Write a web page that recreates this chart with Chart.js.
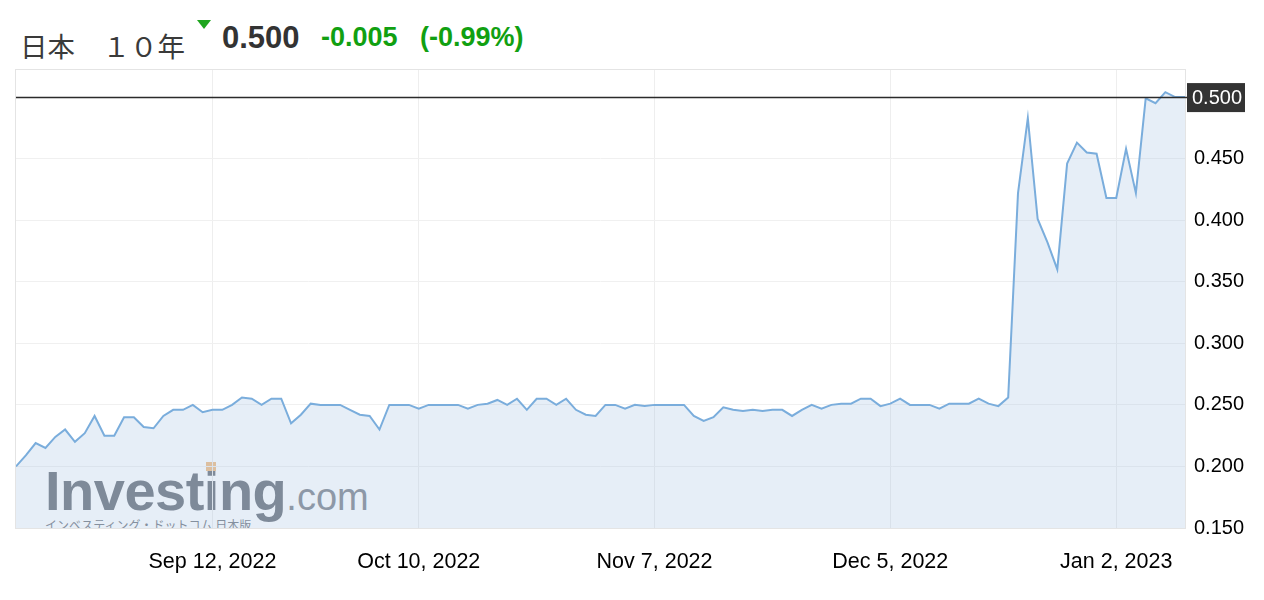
<!DOCTYPE html>
<html lang="ja">
<head>
<meta charset="utf-8">
<script src="https://cdn.jsdelivr.net/npm/chart.js@4.4.0/dist/chart.umd.min.js"></script>
<style>
  html, body { margin: 0; padding: 0; background: #fff; }
  #wrap { position: relative; width: 1264px; height: 600px; overflow: hidden; }
  #myChart { position: absolute; left: 0; top: 0; z-index: 2; }
  .cab { position: absolute; white-space: nowrap; line-height: 1; }
  #titulo { left: 20px; top: 25px; font: 27.5px "Noto Sans CJK JP", sans-serif; color: #3a3a3a; }
  #flecha { left: 197px; top: 20px; width: 0; height: 0; border-left: 7px solid transparent;
            border-right: 7px solid transparent; border-top: 9px solid #1ea51e; }
  #ultimo { left: 222px; top: 20px; font: bold 31px "Liberation Sans", Arial, sans-serif; color: #333; }
  #cambio { left: 321px; top: 22px; font: bold 27px "Liberation Sans", Arial, sans-serif; color: #11a011; }
  #cambioPct { left: 420px; top: 22px; font: bold 27px "Liberation Sans", Arial, sans-serif; color: #11a011; }
  #marca { position: absolute; left: 16px; top: 70px; width: 1169px; height: 458px; overflow: hidden; z-index: 1; }
  #logo { position: absolute; left: 29px; top: 388px; line-height: 56px; color: #737880; white-space: nowrap; }
  #logo .a { font: bold 56px "Liberation Sans", Arial, sans-serif; letter-spacing: -0.5px; }
  #logo .b { font: 38px "Liberation Sans", Arial, sans-serif; color: #878c93; }
  #punto { position: absolute; left: 190px; top: 392px; width: 10px; height: 9px; background: #f2c08a; }
  #logoJp { position: absolute; left: 29px; top: 446px; font: 12px "Noto Sans CJK JP", sans-serif; color: #7c8188; white-space: nowrap; }
</style>
</head>
<body>
<div id="wrap">
  <div class="cab" id="titulo">日本　１０年</div>
  <div class="cab" id="flecha"></div>
  <div class="cab" id="ultimo">0.500</div>
  <div class="cab" id="cambio">-0.005</div>
  <div class="cab" id="cambioPct">(-0.99%)</div>
  <div id="marca">
    <div id="logo"><span class="a">Investing</span><span class="b">.com</span></div>
    <div id="punto"></div>
    <div id="logoJp">インベスティング・ドットコム 日本版</div>
  </div>
  <canvas id="myChart" width="1264" height="600"></canvas>
</div>
<script>
//rendimiento del bono japones a 10 años, un valor por sesion
const valores = [
  0.200, 0.209, 0.219, 0.215, 0.224, 0.230, 0.220, 0.227, 0.241, 0.225,
  0.225, 0.240, 0.240, 0.232, 0.231, 0.241, 0.246, 0.246, 0.250, 0.244,
  0.246, 0.246, 0.250, 0.256, 0.255, 0.250, 0.255, 0.255, 0.235, 0.242,
  0.251, 0.250, 0.250, 0.250, 0.246, 0.242, 0.241, 0.230, 0.250, 0.250,
  0.250, 0.247, 0.250, 0.250, 0.250, 0.250, 0.247, 0.250, 0.251, 0.254,
  0.250, 0.255, 0.246, 0.255, 0.255, 0.250, 0.255, 0.246, 0.242, 0.241,
  0.250, 0.250, 0.247, 0.250, 0.249, 0.250, 0.250, 0.250, 0.250, 0.241,
  0.237, 0.240, 0.248, 0.246, 0.245, 0.246, 0.245, 0.246, 0.246, 0.241,
  0.246, 0.250, 0.247, 0.250, 0.251, 0.251, 0.255, 0.255, 0.249, 0.251,
  0.255, 0.250, 0.250, 0.250, 0.247, 0.251, 0.251, 0.251, 0.255, 0.251,
  0.249, 0.256, 0.422, 0.483, 0.401, 0.382, 0.360, 0.446, 0.463, 0.455,
  0.454, 0.418, 0.418, 0.458, 0.422, 0.499, 0.495, 0.504, 0.500, 0.500
];
//posicion de cada fecha del eje x (indice de la sesion) y su texto
const fechasIdx = [20, 41, 65, 89, 112];
const fechasTxt = ["Sep 12, 2022", "Oct 10, 2022", "Nov 7, 2022", "Dec 5, 2022", "Jan 2, 2023"];
//marcas del eje y
const ticksY = [0.150, 0.200, 0.250, 0.300, 0.350, 0.400, 0.450, 0.500];
const ultimoValor = 0.500;

const puntos = valores.map((v, i) => ({ x: i, y: v }));

//marco gris, linea negra del ultimo valor y la etiqueta oscura
const extras = {
  id: "extras",
  afterDatasetsDraw(chart) {
    const { ctx, chartArea: a, scales } = chart;
    ctx.save();
    ctx.strokeStyle = "#e4e4e4";
    ctx.lineWidth = 1;
    ctx.strokeRect(a.left - 0.5, a.top - 0.5, a.right - a.left + 1, a.bottom - a.top + 1);
    const y = Math.round(scales.y.getPixelForValue(ultimoValor)) + 0.5;
    ctx.strokeStyle = "#2b2b2b";
    ctx.lineWidth = 1.5;
    ctx.beginPath();
    ctx.moveTo(a.left, y);
    ctx.lineTo(a.right + 3, y);
    ctx.stroke();
    ctx.restore();
  },
  afterDraw(chart) {
    const { ctx, chartArea: a, scales } = chart;
    const y = scales.y.getPixelForValue(ultimoValor);
    ctx.save();
    ctx.fillStyle = "#333333";
    ctx.fillRect(a.right + 2, y - 14, 58, 29);
    ctx.fillStyle = "#ffffff";
    ctx.font = "20px 'Liberation Sans', Arial, sans-serif";
    ctx.textBaseline = "middle";
    ctx.fillText(ultimoValor.toFixed(3), a.right + 7, y + 1);
    ctx.restore();
  }
};

new Chart(document.getElementById("myChart"), {
  type: "line",
  data: {
    datasets: [{
      data: puntos,
      borderColor: "#7aaddc",
      borderWidth: 2,
      backgroundColor: "rgba(160, 190, 225, 0.26)",
      fill: "start",
      pointRadius: 0,
      tension: 0
    }]
  },
  options: {
    responsive: false,
    animation: false,
    layout: { padding: { top: 70, left: 16, right: 0, bottom: 0 } },
    plugins: { legend: { display: false }, tooltip: { enabled: false } },
    scales: {
      x: {
        type: "linear",
        min: 0,
        max: valores.length - 1,
        afterBuildTicks: (eje) => { eje.ticks = fechasIdx.map((v) => ({ value: v })); },
        afterFit: (eje) => { eje.height = 72; },
        grid: { color: "#eeeeee", drawTicks: false },
        border: { display: false },
        ticks: {
          autoSkip: false,
          maxRotation: 0,
          padding: 21,
          color: "#000",
          font: { family: "'Liberation Sans', Arial, sans-serif", size: 21.5 },
          callback: (v) => fechasTxt[fechasIdx.indexOf(v)]
        }
      },
      y: {
        position: "right",
        min: 0.150,
        max: 0.522,
        afterBuildTicks: (eje) => { eje.ticks = ticksY.map((v) => ({ value: v })); },
        afterFit: (eje) => { eje.width = 79; },
        grid: { color: "#f0f0f0", drawTicks: false },
        border: { display: false },
        ticks: {
          padding: 9,
          color: "#000",
          font: { family: "'Liberation Sans', Arial, sans-serif", size: 20 },
          callback: (v) => v.toFixed(3)
        }
      }
    }
  },
  plugins: [extras]
});
</script>
</body>
</html>
